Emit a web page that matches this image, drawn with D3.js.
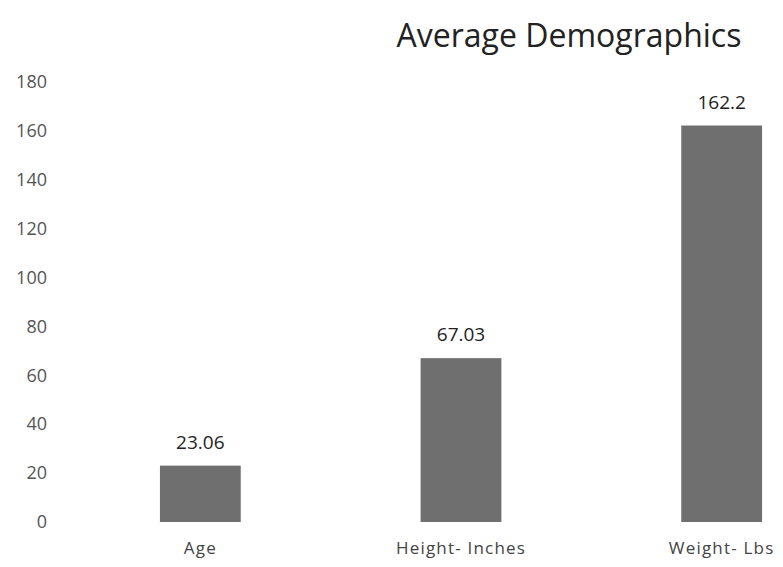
<!DOCTYPE html>
<html>
<head>
<meta charset="utf-8">
<script src="https://cdn.jsdelivr.net/npm/d3@7/dist/d3.min.js"></script>
<style>
  body { margin: 0; background: #fff; }
  text { font-family: "Open Sans", Lato, sans-serif; }
</style>
</head>
<body>
<div id="chart-container"></div>
<script>
// Data
const categories = ['Age', 'Height- Inches', 'Weight- Lbs'];
const values = [23.06, 67.03, 162.2];
const valueLabels = ['23.06', '67.03', '162.2'];
const yTicks = [0, 20, 40, 60, 80, 100, 120, 140, 160, 180];

const svgWidth = 783;
const svgHeight = 567;

const svg = d3.select('#chart-container')
  .append('svg')
  .attr('width', svgWidth)
  .attr('height', svgHeight);

// plot area runs past the right edge (the original is cropped)
const xScale = d3.scaleBand()
  .domain(categories)
  .range([70, 852])
  .paddingInner(0.69)
  .paddingOuter(0.345);

const yScale = d3.scaleLinear()
  .domain([0, 180])
  .range([522, 82]);

// Title
svg.append('text')
  .attr('x', 569)
  .attr('y', 47)
  .attr('text-anchor', 'middle')
  .attr('font-size', 32)
  .attr('fill', '#222')
  .text('Average Demographics');

// Y axis (labels only)
const yAxis = d3.axisLeft(yScale)
  .tickValues(yTicks)
  .tickSize(0)
  .tickPadding(0);

const yG = svg.append('g')
  .attr('transform', 'translate(47, 0)')
  .call(yAxis);
yG.select('.domain').remove();
yG.selectAll('text')
  .attr('font-family', '"Open Sans", Lato, sans-serif')
  .attr('font-size', 18)
  .attr('fill', '#555');

// X axis (labels only)
const xAxis = d3.axisBottom(xScale).tickSize(0).tickPadding(0);
const xG = svg.append('g')
  .attr('transform', 'translate(0, 542)')
  .call(xAxis);
xG.select('.domain').remove();
xG.selectAll('text')
  .attr('font-family', '"Open Sans", Lato, sans-serif')
  .attr('font-size', 17)
  .attr('letter-spacing', 1.2)
  .attr('fill', '#444');

// Bars
svg.selectAll('rect.bar')
  .data(values)
  .enter()
  .append('rect')
  .attr('class', 'bar')
  .attr('x', (d, i) => xScale(categories[i]))
  .attr('y', d => yScale(d))
  .attr('width', xScale.bandwidth())
  .attr('height', d => yScale(0) - yScale(d))
  .attr('fill', '#6f6f6f');

// Value labels
svg.selectAll('text.val')
  .data(values)
  .enter()
  .append('text')
  .attr('class', 'val')
  .attr('x', (d, i) => xScale(categories[i]) + xScale.bandwidth() / 2)
  .attr('y', d => yScale(d) - 17)
  .attr('text-anchor', 'middle')
  .attr('font-size', 19)
  .attr('fill', '#222')
  .text((d, i) => valueLabels[i]);
</script>
</body>
</html>
